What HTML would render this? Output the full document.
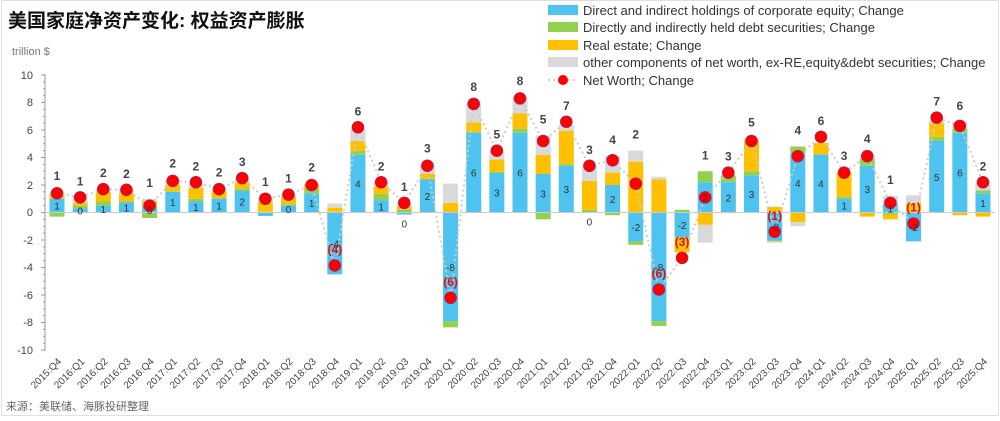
<!DOCTYPE html>
<html><head><meta charset="utf-8">
<style>
body{margin:0;background:#fff;width:1000px;height:416px;overflow:hidden;font-family:"Liberation Sans","Noto Sans CJK SC",sans-serif;}
</style></head><body>
<svg id="s" width="1000" height="416" xmlns="http://www.w3.org/2000/svg" font-family="Liberation Sans, Noto Sans CJK SC, sans-serif">
<rect width="1000" height="416" fill="#fff"/>
<rect x="1.5" y="0.5" width="997" height="415" fill="none" stroke="#e0e0e0"/>
<text x="8" y="27" font-size="19" font-weight="bold" fill="#111">美国家庭净资产变化: 权益资产膨胀</text>
<text x="12" y="55" font-size="11" fill="#777">trillion $</text>
<text x="6" y="410" font-size="11" fill="#666">来源：美联储、海豚投研整理</text>
<g font-size="13" fill="#333">
<rect x="548" y="5" width="30" height="10" fill="#4FC3F0"/><text x="583" y="15">Direct and indirect holdings of corporate equity; Change</text>
<rect x="548" y="22" width="30" height="10" fill="#92D050"/><text x="583" y="32">Directly and indirectly held debt securities; Change</text>
<rect x="548" y="40" width="30" height="10" fill="#FFC000"/><text x="583" y="50">Real estate; Change</text>
<rect x="548" y="57" width="30" height="10" fill="#D9D9D9"/><text x="583" y="67">other components of net worth, ex-RE,equity&amp;debt securities; Change</text>
<line x1="548" y1="80" x2="578" y2="80" stroke="#ccc" stroke-width="2" stroke-dasharray="2,3"/><circle cx="563" cy="80" r="5" fill="#f00"/><text x="583" y="85">Net Worth; Change</text>
</g>
<g id="ax" font-size="11" fill="#444" text-anchor="end">
<text x="33" y="79">10</text><text x="33" y="106">8</text><text x="33" y="134">6</text><text x="33" y="161">4</text><text x="33" y="189">2</text><text x="33" y="216">0</text><text x="33" y="244">-2</text><text x="33" y="271">-4</text><text x="33" y="299">-6</text><text x="33" y="326">-8</text><text x="33" y="354">-10</text>
</g>
<g id="bars"></g><g id="line"></g><g id="lbl"></g><g id="xl" font-size="10" fill="#444"></g>
</svg>
<script>
var E=[1.0,0.3,0.5,0.75,0.4,1.5,0.8,1.0,1.6,-0.25,0.5,1.4,-4.5,4.2,0.9,-0.15,2.4,-7.9,5.8,2.9,5.8,2.8,3.4,0.0,2.0,-2.1,-7.9,-1.8,2.2,2.2,2.7,-2.0,4.3,4.2,1.0,3.4,0.6,-2.1,5.2,5.8,1.4];
var D=[-0.3,0.2,0.3,0.05,-0.4,0.05,0.2,0.05,0.1,0.05,0.1,0.3,0.05,0.3,0.45,0.2,0.05,-0.45,0.05,0.05,0.3,-0.5,0.15,0.2,-0.2,-0.25,-0.35,0.2,0.8,0.5,0.3,-0.1,0.5,0.05,0.15,0.5,-0.15,0.05,0.3,0.3,0.2];
var R=[0.3,0.2,0.7,0.55,0.4,0.45,0.8,0.5,0.45,0.7,0.5,0.4,0.3,0.7,0.55,0.25,0.35,0.7,0.7,0.9,1.1,1.4,2.4,2.1,0.9,3.7,2.4,-1.1,-0.9,-0.05,2.2,0.4,-0.7,0.8,1.8,-0.3,-0.35,0.6,1.0,-0.2,-0.3];
var O=[0.2,0.4,0.2,0.3,0.2,0.4,0.3,0.2,0.3,0.3,0.2,0.0,0.3,0.9,0.3,0.2,0.7,1.4,1.4,0.6,1.2,1.4,0.4,1.1,1.2,0.8,0.2,0,-1.3,0,0.2,-0.1,-0.3,0,0,0.3,0.6,0.6,0.2,0.5,0.6];
var N=[1.4,1.1,1.7,1.65,0.5,2.3,2.2,1.7,2.5,1.0,1.3,2.0,-3.85,6.2,2.2,0.7,3.4,-6.2,7.9,4.5,8.3,5.2,6.6,3.4,3.8,2.1,-5.6,-3.3,1.1,2.9,5.2,-1.4,4.1,5.5,2.9,4.1,0.7,-0.8,6.9,6.3,2.2];
var NL=["1","1","2","2","1","2","2","2","3","1","1","2","(4)","6","2","1","3","(6)","8","5","8","5","7","3","4","2","(6)","(3)","1","3","5","(1)","4","6","3","4","1","(1)","7","6","2"];
var EL=["1","0","1","1","0","1","1","1","2","","0","1","-4","4","1","0","2","-8","6","3","6","3","3","0","2","-2","-8","-2","2","2","3","-2","4","4","1","3","1","-2","5","6","1"];
var Q=[];for(var y=2015,q=4;Q.length<41;){Q.push(y+":Q"+q);q++;if(q>4){q=1;y++;}}
var ns="http://www.w3.org/2000/svg";
function el(p,t,a,txt){var e=document.createElementNS(ns,t);for(var k in a)e.setAttribute(k,a[k]);if(txt!==undefined)e.textContent=txt;document.getElementById(p).appendChild(e);return e;}
function Y(v){return 212.5-v*13.75;}
el("ax","line",{x1:45,y1:74,x2:45,y2:351,stroke:"#999"});
for(var v=-10;v<=10;v+=0.5){el("ax","line",{x1:v%2==0?41:43,y1:Y(v),x2:45,y2:Y(v),stroke:"#999"});}
var cols=["#4FC3F0","#92D050","#FFC000","#D9D9D9"];
var pts=[];
for(var i=0;i<41;i++){
 var cx=57+i*23.15,w=15,pos=0,neg=0,vals=[E[i],D[i],R[i],O[i]];
 for(var j=0;j<4;j++){var v=vals[j];if(v>=0){el("bars","rect",{x:cx-w/2,y:Y(pos+v),width:w,height:v*13.75,fill:cols[j]});pos+=v;}else{el("bars","rect",{x:cx-w/2,y:Y(neg),width:w,height:-v*13.75,fill:cols[j]});neg+=v;}}
 pts.push(cx+","+Y(N[i]));
 var el_y=Y(E[i]/2)+4;
 if(EL[i])el("lbl","text",{x:cx,y:Math.abs(E[i])<0.3?Y(neg)+13:el_y,"font-size":10,fill:"#333","text-anchor":"middle"},EL[i]);
 var neg1=N[i]<0;
 el("lbl","text",{x:cx,y:neg1?Y(N[i])-12:Math.min(Y(pos),Y(N[i]))-12,"font-size":12,"font-weight":"bold",fill:neg1?"#e01010":"#444","text-anchor":"middle"},NL[i]);
 el("xl","text",{x:0,y:0,"text-anchor":"end",transform:"translate("+(cx+5)+",362) rotate(-45)"},Q[i]);
}
el("bars","line",{x1:45,y1:212.5,x2:995,y2:212.5,stroke:"#ccc"});
el("line","polyline",{points:pts.join(" "),fill:"none",stroke:"#ccc","stroke-width":2,"stroke-dasharray":"2,3"});
for(var i=0;i<41;i++){var p=pts[i].split(",");el("line","circle",{cx:p[0],cy:p[1],r:6,fill:"#f00",stroke:"#7a3a8a","stroke-width":0.6});}
</script>
</body></html>
